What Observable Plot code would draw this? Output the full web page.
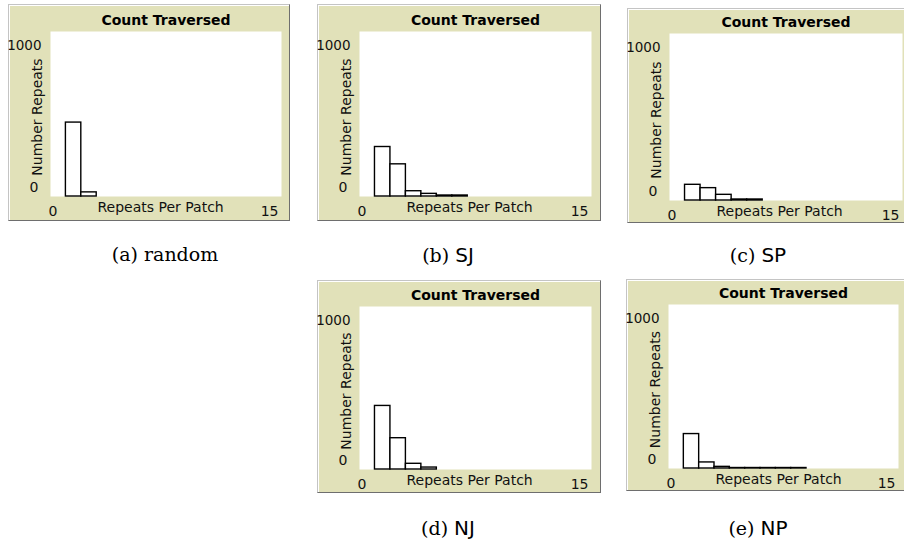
<!DOCTYPE html>
<html>
<head>
<meta charset="utf-8">
<script src="https://cdn.jsdelivr.net/npm/d3@7"></script>
<script src="https://cdn.jsdelivr.net/npm/@observablehq/plot@0.6"></script>
<style>
  html, body { margin: 0; padding: 0; background: #ffffff; }
  body { width: 904px; height: 544px; position: relative; overflow: hidden; }
  .panel { position: absolute; box-sizing: border-box; border: 1px solid; border-color: #c4c4c4 #6e6e6e #6e6e6e #c4c4c4; background: #ffffff; padding: 1px 0 0 1px; }
  .panel svg { display: block; overflow: visible; }
  .cap { position: absolute; font-family: "DejaVu Serif", "Liberation Serif", serif; font-size: 19px; color: #000; white-space: nowrap; transform: translateX(-50%); }
  .cap .sf { font-family: "DejaVu Sans", "Liberation Sans", sans-serif; font-size: 20px; }
</style>
</head>
<body>
<script>
// ---- data (bins of width 1 starting at x = 1) ----
const binStart = 1;
const randomCounts = [448, 25];
const sjCounts = [300, 195, 32, 16, 6, 6];
const spCounts = [94, 74, 34, 6, 6];
const njCounts = [390, 192, 35, 12];
const npCounts = [210, 37, 10, 3, 3, 3, 3, 3];
const panelTitle = "Count Traversed";
const xLabel = "Repeats Per Patch";
const yLabel = "Number Repeats";
const xTicks = [0, 15];
const yTicks = [0, 1000];
const captionLetters = ["(a)", "(b)", "(c)", "(d)", "(e)"];
const captionNames = ["random", "SJ", "SP", "NJ", "NP"];
const seriesList = [randomCounts, sjCounts, spCounts, njCounts, npCounts];

// ---- layout (page px): frame box and white plot area ----
const layout = [
  {frame: [8, 4, 290, 221],   area: [50, 31, 281, 196],  cap: [165, 243]},
  {frame: [317, 4, 601, 221], area: [359, 31, 591, 196], cap: [448, 243]},
  {frame: [627, 8, 912, 223], area: [669, 33, 902, 200], cap: [758, 243]},
  {frame: [317, 280, 601, 493], area: [359, 306, 591, 469], cap: [448, 516]},
  {frame: [626, 279, 912, 491], area: [668, 304, 898, 468], cap: [758, 516]}
];

const axisFont = "'DejaVu Sans', sans-serif";
const fmt = d => String(d);

seriesList.forEach((counts, i) => {
  const L = layout[i];
  const [fx0, fy0, fx1, fy1] = L.frame;
  const [ax0, ay0, ax1, ay1] = L.area;
  const cx0 = fx0 + 2, cy0 = fy0 + 2; // content origin (border + inner white line)
  const W = fx1 - 1 - cx0, H = fy1 - 1 - cy0;
  const rows = counts.map((c, k) => ({x1: binStart + k, x2: binStart + k + 1, count: c}));

  const chart = Plot.plot({
    width: W,
    height: H,
    marginLeft: ax0 - cx0,
    marginRight: cx0 + W - ax1,
    marginTop: ay0 - cy0,
    marginBottom: cy0 + H - ay1,
    style: {background: "#e1e1b9", fontFamily: axisFont, fontSize: "14px", color: "#111", overflow: "visible"},
    x: {domain: [0, 15]},
    y: {domain: [0, 1000]},
    marks: [
      Plot.frame({fill: "white", stroke: null}),
      Plot.rectY(rows, {x1: "x1", x2: "x2", y: "count", fill: "white", stroke: "black", strokeWidth: 1.4, insetLeft: 0, insetRight: 0}),
      Plot.axisX([xTicks[0]], {tickSize: 0, tickFormat: fmt, textAnchor: "start", dx: -2, dy: 1, label: null, fontSize: 14, fill: "#111"}),
      Plot.axisX([xTicks[1]], {tickSize: 0, tickFormat: fmt, textAnchor: "end", dx: -3, dy: 1, label: null, fontSize: 14, fill: "#111"}),
      Plot.axisY([yTicks[1]], {tickSize: 0, tickFormat: fmt, textAnchor: "end", dx: 0, dy: 14, label: null, fontSize: 13.5, fill: "#111"}),
      Plot.axisY([yTicks[0]], {tickSize: 0, tickFormat: fmt, textAnchor: "end", dx: -3, dy: -9, label: null, fontSize: 14, fill: "#111"}),
      Plot.text([xLabel], {frameAnchor: "bottom-left", text: d => d, textAnchor: "start", dx: 47, dy: 11, lineAnchor: "middle", fontSize: 14, fill: "#111"}),
      Plot.text([yLabel], {frameAnchor: "left", text: d => d, rotate: -90, dx: -13, dy: 3, lineAnchor: "middle", textAnchor: "middle", fontSize: 14, fill: "#111"}),
      Plot.text([panelTitle], {frameAnchor: "top", text: d => d, dy: -11, lineAnchor: "middle", textAnchor: "middle", fontSize: 14, fontWeight: "bold", fill: "#000"})
    ]
  });

  const div = document.createElement("div");
  div.className = "panel";
  div.style.left = fx0 + "px";
  div.style.top = fy0 + "px";
  div.style.width = (fx1 - fx0) + "px";
  div.style.height = (fy1 - fy0) + "px";
  div.appendChild(chart);
  document.body.appendChild(div);

  const cap = document.createElement("div");
  cap.className = "cap";
  cap.style.left = L.cap[0] + "px";
  cap.style.top = L.cap[1] + "px";
  const a = document.createElement("span");
  a.textContent = captionLetters[i] + " ";
  const b = document.createElement("span");
  b.textContent = captionNames[i];
  if (i > 0) b.className = "sf";
  cap.appendChild(a);
  cap.appendChild(b);
  document.body.appendChild(cap);
});
</script>
</body>
</html>
